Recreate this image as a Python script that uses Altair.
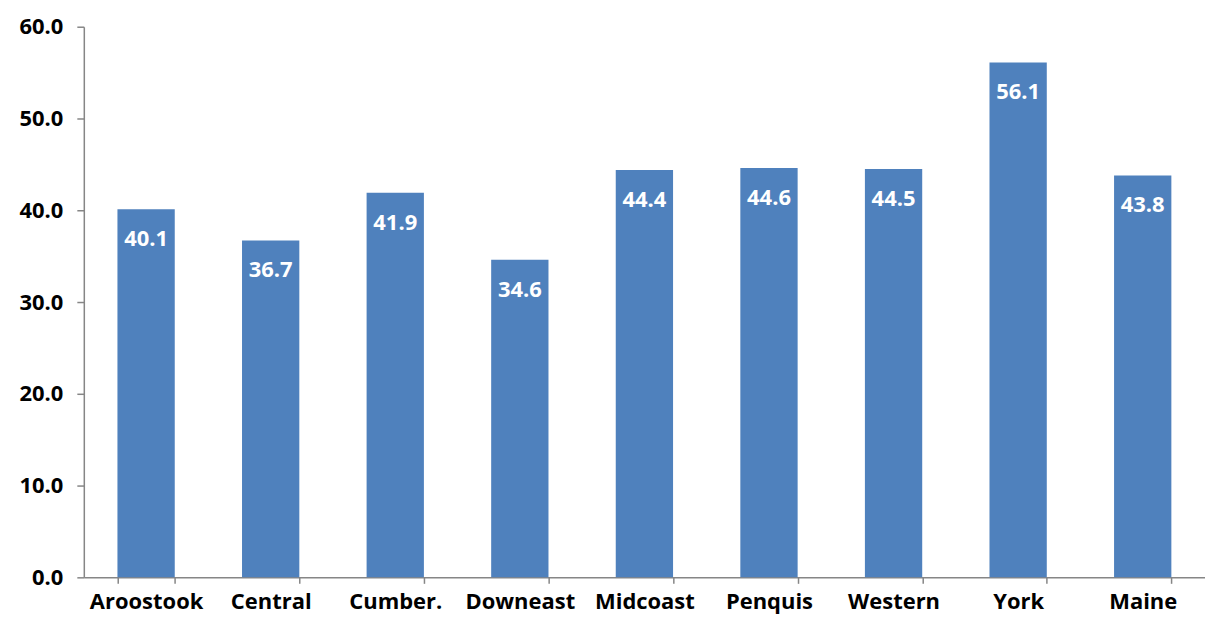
import altair as alt
import pandas as pd

regions = ["Aroostook", "Central", "Cumber.", "Downeast", "Midcoast", "Penquis", "Western", "York", "Maine"]
values = [40.1, 36.7, 41.9, 34.6, 44.4, 44.6, 44.5, 56.1, 43.8]

df = pd.DataFrame({"region": regions, "value": values})

FONT = "Open Sans"
AXIS_COLOR = "#868686"

base = alt.Chart(df).encode(
    x=alt.X("region:N", sort=regions, title=None,
            scale=alt.Scale(paddingInner=0.54, paddingOuter=0.27),
            axis=alt.Axis(labelAngle=0, labelFont=FONT, labelFontSize=22, labelFontWeight="bold",
                          labelColor="black", domainColor=AXIS_COLOR, tickColor=AXIS_COLOR,
                          tickSize=6, tickBand="extent", labelPadding=8, domainWidth=1.5, tickWidth=1.5)),
)

bars = base.mark_bar(color="#4F81BD").encode(
    y=alt.Y("value:Q", title=None,
            scale=alt.Scale(domain=[0, 60], nice=False),
            axis=alt.Axis(values=[0, 10, 20, 30, 40, 50, 60], format=".1f", grid=False,
                          labelFont=FONT, labelFontSize=22, labelFontWeight="bold", labelColor="black",
                          domainColor=AXIS_COLOR, tickColor=AXIS_COLOR, tickSize=7, labelPadding=14,
                          domainWidth=1.5, tickWidth=1.5)),
)

labels = base.mark_text(color="white", font=FONT, fontSize=22, fontWeight="bold",
                        baseline="middle", dy=30).encode(
    y=alt.Y("value:Q"),
    text=alt.Text("value:Q", format=".1f"),
)

chart = (bars + labels).properties(
    width=1124, height=552,
    padding={"left": 10, "top": 7, "right": 0, "bottom": 4},
).configure(background="white").configure_view(stroke=None)

chart.save("out.html", embed_options={"renderer": "svg", "actions": False})
